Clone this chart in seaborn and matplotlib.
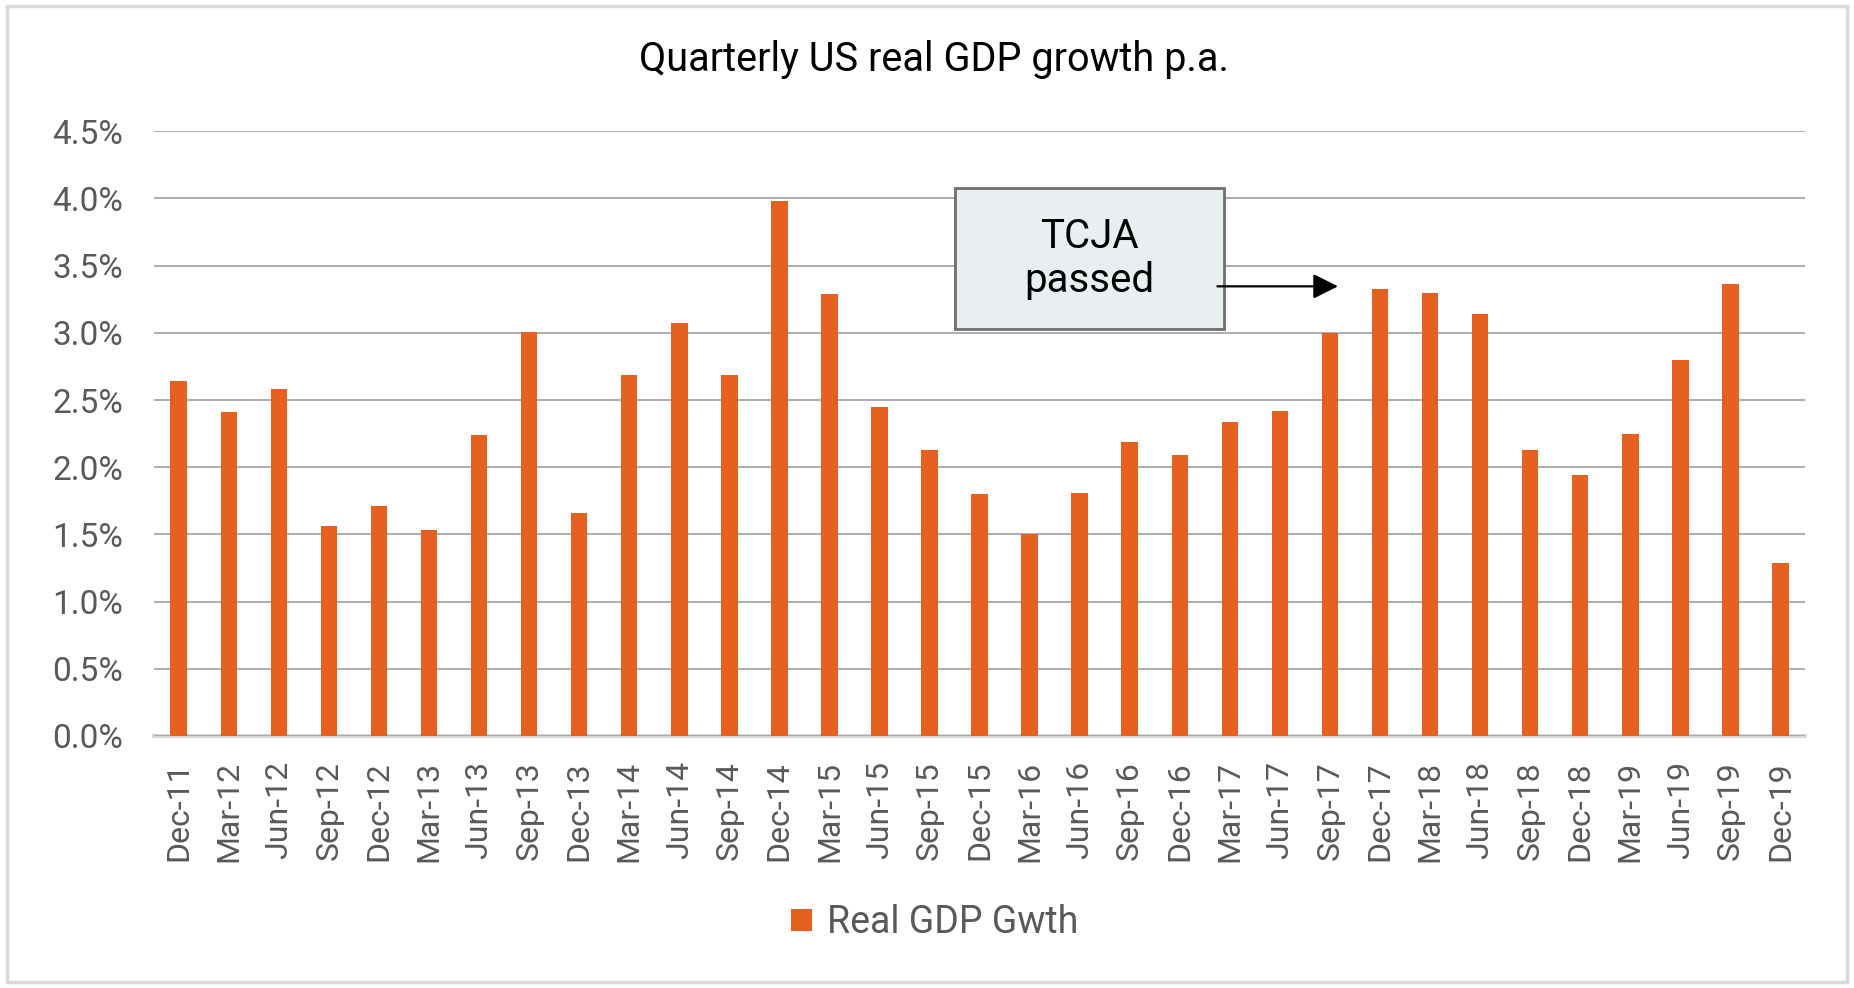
import numpy as np
import pandas as pd
import matplotlib
matplotlib.use('Agg')
import matplotlib.pyplot as plt
from matplotlib.patches import Rectangle, Patch
import seaborn as sns

quarters = ['Dec-11', 'Mar-12', 'Jun-12', 'Sep-12', 'Dec-12', 'Mar-13', 'Jun-13',
            'Sep-13', 'Dec-13', 'Mar-14', 'Jun-14', 'Sep-14', 'Dec-14', 'Mar-15',
            'Jun-15', 'Sep-15', 'Dec-15', 'Mar-16', 'Jun-16', 'Sep-16', 'Dec-16',
            'Mar-17', 'Jun-17', 'Sep-17', 'Dec-17', 'Mar-18', 'Jun-18', 'Sep-18',
            'Dec-18', 'Mar-19', 'Jun-19', 'Sep-19', 'Dec-19']
gdp_growth = [2.64, 2.41, 2.58, 1.56, 1.71, 1.53, 2.24, 3.01, 1.66, 2.69, 3.07,
              2.69, 3.98, 3.29, 2.45, 2.13, 1.80, 1.50, 1.81, 2.19, 2.09, 2.34,
              2.42, 3.00, 3.33, 3.30, 3.14, 2.13, 1.94, 2.25, 2.80, 3.36, 1.29]
y_ticks = [0.0, 0.5, 1.0, 1.5, 2.0, 2.5, 3.0, 3.5, 4.0, 4.5]
series_name = 'Real GDP Gwth'
title = 'Quarterly US real GDP growth p.a.'
note = 'TCJA\npassed'

df = pd.DataFrame({'quarter': quarters, 'growth': gdp_growth})

sns.set_theme(style='white')
plt.rcParams['font.family'] = ['Roboto', 'DejaVu Sans']

orange = '#E6611F'
grey_txt = '#595959'

fig = plt.figure(figsize=(18.54, 9.88), dpi=100)
ax = fig.add_axes([0.0829, 0.2551, 0.8909, 0.612])

sns.barplot(data=df, x='quarter', y='growth', color=orange, saturation=1,
            width=0.33, linewidth=0, ax=ax)

ax.set_ylim(0, 4.5)
ax.set_xlim(-0.5, len(quarters) - 0.5)
ax.set_yticks(y_ticks)
ax.set_yticklabels(['{:.1f}%'.format(v) for v in y_ticks])
ax.yaxis.grid(True, color='#A6A6A6', linewidth=1.3)
ax.set_axisbelow(True)
for s in ['left', 'right', 'top']:
    ax.spines[s].set_visible(False)
ax.spines['bottom'].set_color('#D9D9D9')
ax.spines['bottom'].set_linewidth(3)
ax.spines['bottom'].set_zorder(0.5)

ax.tick_params(axis='y', length=0, pad=22, labelsize=24, labelcolor=grey_txt)
ax.tick_params(axis='x', which='major', length=0, pad=18, labelsize=23,
               labelcolor=grey_txt, labelrotation=90)
ax.set_xticks(np.arange(-0.5, len(quarters)), minor=True)
ax.tick_params(axis='x', which='minor', length=16, width=1.5, color='#D9D9D9',
               direction='out')
ax.set_xlabel('')
ax.set_ylabel('')

fig.text(0.504, 0.94, title, ha='center', va='center', fontsize=28.5, color='black')

handle = Patch(facecolor=orange, edgecolor='none')
leg = ax.legend(handles=[handle], labels=[series_name], loc='center',
                bbox_to_anchor=(0.504, 0.066), bbox_transform=fig.transFigure,
                frameon=False, fontsize=27, handlelength=0.56, handleheight=0.56,
                handletextpad=0.4)
for t in leg.get_texts():
    t.set_color(grey_txt)

# annotation box
box = Rectangle((0.4853, 0.673), 0.1625, 0.233, transform=ax.transAxes,
                facecolor='#E9EEF1', edgecolor='#6E6E6E', linewidth=2, zorder=5)
ax.add_patch(box)
ax.text(0.5665, 0.7895, note, transform=ax.transAxes, ha='center', va='center',
        fontsize=29, color='black', linespacing=1.15, zorder=6)
ax.annotate('', xy=(0.717, 0.7436), xytext=(0.644, 0.7436),
            xycoords='axes fraction', textcoords='axes fraction',
            arrowprops=dict(arrowstyle='-|>', color='black', lw=1.6,
                            mutation_scale=38, shrinkA=0, shrinkB=0), zorder=6)

# outer frame
fig.patches.append(Rectangle((0.004, 0.006), 0.992, 0.988, transform=fig.transFigure,
                             fill=False, edgecolor='#D9D9D9', linewidth=2.5))

fig.savefig('out.png', dpi=100, facecolor='white')
